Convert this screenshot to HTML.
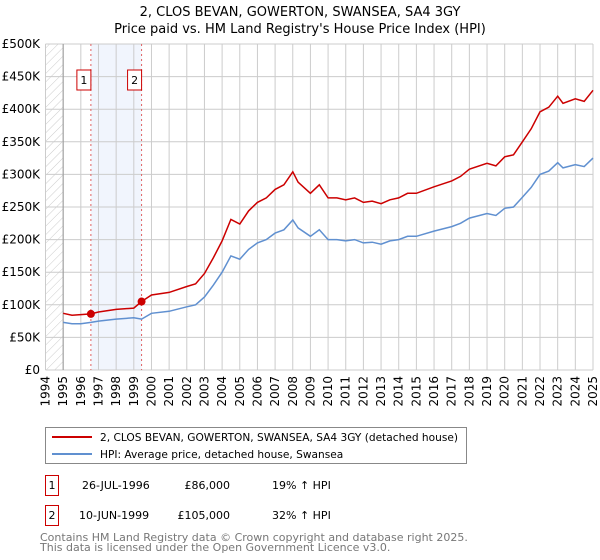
<!DOCTYPE html>
<html><head><meta charset="utf-8"><style>
body{margin:0;background:#fff;font-family:"DejaVu Sans","Liberation Sans",sans-serif;}
svg{display:block}
text{font-family:"DejaVu Sans","Liberation Sans",sans-serif;}
</style></head><body>
<svg id="c" width="600" height="560">
<defs><pattern id="hatch" width="6" height="6" patternUnits="userSpaceOnUse" patternTransform="rotate(45)"><line x1="0" y1="0" x2="0" y2="6" stroke="#ccc" stroke-width="1"/></pattern></defs>
<text x="300" y="16" text-anchor="middle" font-size="13">2, CLOS BEVAN, GOWERTON, SWANSEA, SA4 3GY</text>
<text x="300" y="33" text-anchor="middle" font-size="13">Price paid vs. HM Land Registry's House Price Index (HPI)</text>
<g id="plot"></g>
<g>
<rect x="45.5" y="427.5" width="421" height="36" fill="#fff" stroke="#888"/>
<line x1="52" y1="437" x2="92" y2="437" stroke="#cc0000" stroke-width="2"/>
<text x="100" y="441" font-size="10.6">2, CLOS BEVAN, GOWERTON, SWANSEA, SA4 3GY (detached house)</text>
<line x1="52" y1="454" x2="92" y2="454" stroke="#6090d0" stroke-width="2"/>
<text x="100" y="458" font-size="10.6">HPI: Average price, detached house, Swansea</text>
</g>
<g font-size="11">
<rect x="45.5" y="475.5" width="13" height="20" fill="#fff" stroke="#cc0000"/>
<text x="52" y="489" text-anchor="middle">1</text>
<text x="82" y="489">26-JUL-1996</text>
<text x="230" y="489" text-anchor="end">£86,000</text>
<text x="272" y="489">19% ↑ HPI</text>
<rect x="45.5" y="505.5" width="13" height="20" fill="#fff" stroke="#cc0000"/>
<text x="52" y="519" text-anchor="middle">2</text>
<text x="79" y="519">10-JUN-1999</text>
<text x="230" y="519" text-anchor="end">£105,000</text>
<text x="272" y="519">32% ↑ HPI</text>
</g>
<text x="40" y="541" font-size="11" fill="#777">Contains HM Land Registry data © Crown copyright and database right 2025.</text>
<text x="40" y="551" font-size="11" fill="#777">This data is licensed under the Open Government Licence v3.0.</text>
</svg>
<script>
const hpiX=[1995,1995.5,1996,1996.57,1997,1998,1999,1999.44,2000,2001,2002,2002.5,2003,2003.5,2004,2004.5,2005,2005.5,2006,2006.5,2007,2007.5,2008,2008.3,2009,2009.5,2010,2010.5,2011,2011.5,2012,2012.5,2013,2013.5,2014,2014.5,2015,2016,2017,2017.5,2018,2019,2019.5,2020,2020.5,2021,2021.5,2022,2022.5,2023,2023.3,2024,2024.5,2025];
const hpiValues=[73,71,71,73,75,78,80,78,87,90,97,100,112,130,150,175,170,185,195,200,210,215,230,218,205,215,200,200,198,200,195,196,193,198,200,205,205,213,220,225,233,240,237,248,250,265,280,300,305,318,310,315,312,325];
const priceValues=[87,84,85,86,89,93,95,105,115,119,128,132,148,172,198,231,224,244,257,264,277,284,304,288,271,284,264,264,261,264,257,259,255,261,264,271,271,281,290,297,308,317,313,327,330,350,370,396,403,420,409,416,412,429];
const saleX=[1996.57,1999.44];
const saleValues=[86,105];
const saleLabels=["1","2"];
const yTicks=[0,50,100,150,200,250,300,350,400,450,500];
const yTickLabels=["£0","£50K","£100K","£150K","£200K","£250K","£300K","£350K","£400K","£450K","£500K"];
const xTicks=[];for(let y=1994;y<=2025;y++)xTicks.push(y);

const L=45.5,R=593,T=44,B=370;
const xs=v=>L+(v-1994)/31*(R-L);
const ys=v=>B-v/500*(B-T);
const NS="http://www.w3.org/2000/svg";
const g=document.getElementById('plot');
function mk(t,a,p){const e=document.createElementNS(NS,t);for(const k in a)e.setAttribute(k,a[k]);(p||g).appendChild(e);return e;}

const band=mk('rect',{x:xs(saleX[0]),y:T,width:xs(saleX[1])-xs(saleX[0]),height:B-T,fill:'#eef3fc',opacity:0.8});


const hat=mk('rect',{x:L,y:T,width:xs(1995)-L,height:B-T,fill:'url(#hatch)'});



yTicks.forEach((v,i)=>{
  const ln=mk('line',{x1:L,x2:R,y1:ys(v),y2:ys(v),stroke:'#ccc','stroke-width':1});
  
  
  const t=mk('text',{x:40,y:ys(v)+4,'text-anchor':'end','font-size':12});
  t.textContent=yTickLabels[i];
  
  
});
xTicks.forEach(v=>{
  const ln=mk('line',{x1:xs(v),x2:xs(v),y1:T,y2:B,stroke:'#ccc','stroke-width':1});
  
  
  const t=mk('text',{x:0,y:0,'text-anchor':'end','font-size':12,transform:`translate(${xs(v)+4},${B+6}) rotate(-90)`});
  t.textContent=v;
  
  
});
const ax=mk('line',{x1:xs(1995),x2:xs(1995),y1:T,y2:B,stroke:'#999','stroke-width':1});



saleX.forEach((v,i)=>{
  const ln=mk('line',{x1:xs(v),x2:xs(v),y1:T,y2:B,stroke:'#e06060','stroke-width':1,'stroke-dasharray':'2,3'});
  
  
  const r=mk('rect',{x:xs(v)-14,y:70,width:14,height:20,fill:'#fff',stroke:'#cc0000'});
  
  
  const t=mk('text',{x:xs(v)-7,y:84,'text-anchor':'middle','font-size':11});
  t.textContent=saleLabels[i];
  
  
});

function path(vals){return vals.map((v,i)=>(i?'L':'M')+xs(hpiX[i]).toFixed(1)+','+ys(v).toFixed(1)).join('');}
const hp=mk('path',{d:path(hpiValues),fill:'none',stroke:'#6090d0','stroke-width':1.5});


const pp=mk('path',{d:path(priceValues),fill:'none',stroke:'#cc0000','stroke-width':1.5});


saleX.forEach((v,i)=>{
  const c=mk('circle',{cx:xs(v),cy:ys(saleValues[i]),r:4,fill:'#cc0000'});
  
  
});
</script>
</body></html>
